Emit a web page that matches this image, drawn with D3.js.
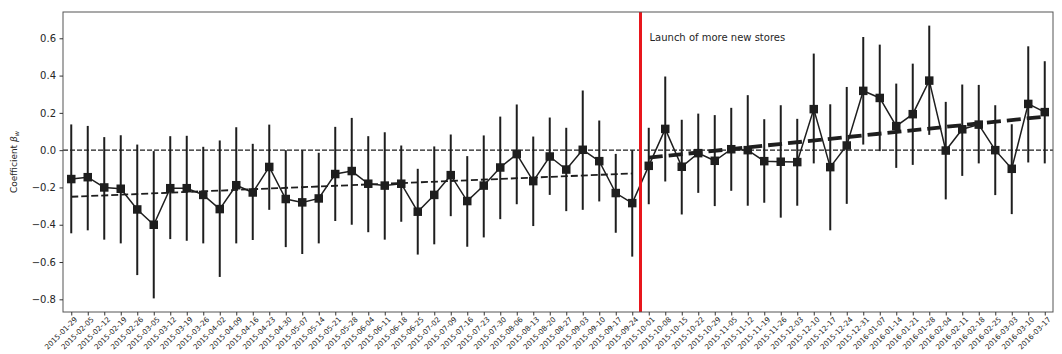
<!DOCTYPE html>
<html>
<head>
<meta charset="utf-8">
<script src="https://cdn.jsdelivr.net/npm/d3@7"></script>
<style>
  html, body { margin: 0; padding: 0; background: #fff; }
  svg { display: block; font-family: "DejaVu Sans", sans-serif; }
</style>
</head>
<body>
<svg id="chart" width="1062" height="354"></svg>
<script>
// Weekly coefficient estimates with confidence intervals
const weeks = [
  "2015-01-29","2015-02-05","2015-02-12","2015-02-19","2015-02-26","2015-03-05",
  "2015-03-12","2015-03-19","2015-03-26","2015-04-02","2015-04-09","2015-04-16",
  "2015-04-23","2015-04-30","2015-05-07","2015-05-14","2015-05-21","2015-05-28",
  "2015-06-04","2015-06-11","2015-06-18","2015-06-25","2015-07-02","2015-07-09",
  "2015-07-16","2015-07-23","2015-07-30","2015-08-06","2015-08-13","2015-08-20",
  "2015-08-27","2015-09-03","2015-09-10","2015-09-17","2015-09-24","2015-10-01",
  "2015-10-08","2015-10-15","2015-10-22","2015-10-29","2015-11-05","2015-11-12",
  "2015-11-19","2015-11-26","2015-12-03","2015-12-10","2015-12-17","2015-12-24",
  "2015-12-31","2016-01-07","2016-01-14","2016-01-21","2016-01-28","2016-02-04",
  "2016-02-11","2016-02-18","2016-02-25","2016-03-03","2016-03-10","2016-03-17"
];

const coef = [
  -0.155,-0.145,-0.200,-0.207,-0.318,-0.400,-0.204,-0.204,-0.240,-0.316,
  -0.188,-0.227,-0.090,-0.262,-0.280,-0.259,-0.128,-0.112,-0.180,-0.190,
  -0.180,-0.330,-0.240,-0.134,-0.273,-0.190,-0.093,-0.021,-0.166,-0.034,
  -0.104, 0.002,-0.059,-0.230,-0.284,-0.084, 0.114,-0.089,-0.016,-0.057,
   0.005, 0.000,-0.059,-0.062,-0.064, 0.220,-0.091, 0.025, 0.318, 0.280,
   0.129, 0.193, 0.373,-0.002, 0.112, 0.137, 0.000,-0.100, 0.248, 0.204
];

const ciUpper = [
   0.138, 0.130, 0.070, 0.080, 0.030,-0.005, 0.075, 0.077, 0.018, 0.052,
   0.123, 0.034, 0.137, 0.000, 0.000,-0.014, 0.125, 0.173, 0.075, 0.096,
   0.025,-0.100, 0.020, 0.084,-0.032, 0.079, 0.180, 0.245, 0.073, 0.175,
   0.120, 0.320, 0.159,-0.020, 0.000, 0.120, 0.395, 0.163, 0.196, 0.188,
   0.227, 0.295, 0.166, 0.241, 0.168, 0.518, 0.246, 0.339, 0.607, 0.566,
   0.357, 0.464, 0.668, 0.259, 0.352, 0.350, 0.241, 0.139, 0.557, 0.477
];

const ciLower = [
  -0.446,-0.430,-0.480,-0.500,-0.670,-0.795,-0.477,-0.486,-0.500,-0.680,
  -0.500,-0.482,-0.320,-0.520,-0.557,-0.500,-0.380,-0.400,-0.440,-0.480,
  -0.384,-0.560,-0.505,-0.354,-0.518,-0.468,-0.370,-0.290,-0.407,-0.240,
  -0.327,-0.320,-0.275,-0.443,-0.571,-0.290,-0.168,-0.345,-0.229,-0.300,
  -0.218,-0.298,-0.282,-0.362,-0.298,-0.071,-0.430,-0.288, 0.030,-0.005,
  -0.095,-0.079, 0.082,-0.264,-0.138,-0.071,-0.241,-0.343,-0.066,-0.071
];

// Linear trends before and after the launch (endpoints)
const trendBefore = [["2015-01-29", -0.250], ["2015-09-24", -0.125]];
const trendAfter  = [["2015-10-01", -0.040], ["2016-03-17", 0.180]];

// Launch falls between these two weeks
const launchWeeks = ["2015-09-24", "2015-10-01"];
const launchLabel = "Launch of more new stores";

const yTicks = [-0.8, -0.6, -0.4, -0.2, 0.0, 0.2, 0.4, 0.6];
const yDomain = [-0.868, 0.741];

const frame = { left: 63, right: 1053, top: 12, bottom: 312 };
const svg = d3.select("#chart");
const ink = "#1e1e1e";

const x = d3.scalePoint().domain(weeks).range([frame.left, frame.right]).padding(0.5);
const y = d3.scaleLinear().domain(yDomain).range([frame.bottom, frame.top]);

const clip = svg.append("defs").append("clipPath").attr("id", "plot-area")
  .append("rect")
  .attr("x", frame.left).attr("y", frame.top)
  .attr("width", frame.right - frame.left).attr("height", frame.bottom - frame.top);

const plot = svg.append("g").attr("clip-path", "url(#plot-area)");

// zero reference line
plot.append("line")
  .attr("x1", frame.left).attr("x2", frame.right)
  .attr("y1", y(0)).attr("y2", y(0))
  .attr("stroke", ink).attr("stroke-width", 1.1)
  .attr("stroke-dasharray", "5,2");

// error bars
const rows = weeks.map((w, i) => ({ w, v: coef[i], lo: ciLower[i], hi: ciUpper[i] }));
plot.append("g").selectAll("line").data(rows).join("line")
  .attr("x1", d => x(d.w)).attr("x2", d => x(d.w))
  .attr("y1", d => y(d.lo)).attr("y2", d => y(d.hi))
  .attr("stroke", ink).attr("stroke-width", 2);

// trend lines
const trendLine = d3.line().x(d => x(d[0])).y(d => y(d[1]));
plot.append("path").attr("d", trendLine(trendBefore))
  .attr("fill", "none").attr("stroke", ink).attr("stroke-width", 1.8)
  .attr("stroke-dasharray", "7,3");
plot.append("path").attr("d", trendLine(trendAfter))
  .attr("fill", "none").attr("stroke", ink).attr("stroke-width", 3.8)
  .attr("stroke-dasharray", "14,6");

// coefficient series
const seriesLine = d3.line().x(d => x(d.w)).y(d => y(d.v));
plot.append("path").attr("d", seriesLine(rows))
  .attr("fill", "none").attr("stroke", ink).attr("stroke-width", 1.5);

const ms = 8.5;
plot.append("g").selectAll("rect").data(rows).join("rect")
  .attr("x", d => x(d.w) - ms / 2).attr("y", d => y(d.v) - ms / 2)
  .attr("width", ms).attr("height", ms)
  .attr("fill", ink);

// launch marker
const launchX = (x(launchWeeks[0]) + x(launchWeeks[1])) / 2;
plot.append("line")
  .attr("x1", launchX).attr("x2", launchX)
  .attr("y1", frame.top).attr("y2", frame.bottom)
  .attr("stroke", "#e8161c").attr("stroke-width", 3);
svg.append("text")
  .attr("x", launchX + 9).attr("y", 41)
  .attr("font-size", 10).attr("fill", "#262626")
  .text(launchLabel);

// frame
svg.append("rect")
  .attr("x", frame.left).attr("y", frame.top)
  .attr("width", frame.right - frame.left).attr("height", frame.bottom - frame.top)
  .attr("fill", "none").attr("stroke", "#555").attr("stroke-width", 1);

// y axis
const yAxis = svg.append("g")
  .attr("transform", `translate(${frame.left},0)`)
  .call(d3.axisLeft(y).tickValues(yTicks).tickFormat(d3.format(".1f")).tickSize(3.5).tickPadding(3.5));
yAxis.select(".domain").remove();
yAxis.selectAll(".tick line").attr("stroke", "#333");
yAxis.selectAll(".tick text").attr("font-size", 10).attr("fill", "#262626")
  .attr("font-family", "DejaVu Sans");

// x axis
const xAxis = svg.append("g")
  .attr("transform", `translate(0,${frame.bottom})`)
  .call(d3.axisBottom(x).tickSize(3.5).tickPadding(2));
xAxis.select(".domain").remove();
xAxis.selectAll(".tick line").attr("stroke", "#333");
xAxis.selectAll(".tick text")
  .attr("font-size", 7.3).attr("fill", "#262626").attr("font-family", "DejaVu Sans")
  .attr("text-anchor", "end")
  .attr("dy", null).attr("y", null)
  .attr("transform", "translate(6,8) rotate(-45)");

// y axis title
svg.append("text")
  .attr("transform", `translate(17,${(frame.top + frame.bottom) / 2}) rotate(-90)`)
  .attr("text-anchor", "middle")
  .attr("font-size", 9).attr("fill", "#262626")
  .call(t => {
    t.append("tspan").text("Coefficient ");
    t.append("tspan").attr("font-style", "italic").text("β");
    t.append("tspan").attr("font-style", "italic").attr("font-size", 6.5).attr("dy", 2).text("w");
  });
</script>
</body>
</html>
